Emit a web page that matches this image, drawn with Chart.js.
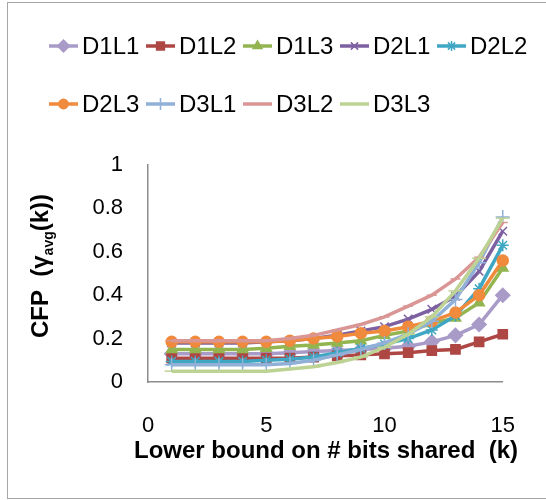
<!DOCTYPE html>
<html>
<head>
<meta charset="utf-8">
<script src="https://cdn.jsdelivr.net/npm/chart.js@4"></script>
<style>
  html, body { margin: 0; padding: 0; background: #fff; overflow: hidden; }
</style>
</head>
<body>
<canvas id="myChart" width="546" height="500"></canvas>
<script>
const ks = [1, 2, 3, 4, 5, 6, 7, 8, 9, 10, 11, 12, 13, 14, 15];
const xTicks = [0, 5, 10, 15];
const yTicks = [0, 0.2, 0.4, 0.6, 0.8, 1];

const d1l1 = [0.13, 0.13, 0.13, 0.13, 0.13, 0.135, 0.14, 0.145, 0.15, 0.155, 0.165, 0.185, 0.215, 0.265, 0.40];
const d1l2 = [0.11, 0.11, 0.11, 0.11, 0.11, 0.11, 0.115, 0.12, 0.125, 0.13, 0.135, 0.145, 0.15, 0.185, 0.22];
const d1l3 = [0.15, 0.15, 0.15, 0.15, 0.155, 0.165, 0.17, 0.18, 0.19, 0.215, 0.235, 0.27, 0.295, 0.365, 0.525];
const d2l1 = [0.18, 0.18, 0.18, 0.18, 0.185, 0.19, 0.2, 0.215, 0.235, 0.255, 0.29, 0.335, 0.395, 0.51, 0.695];
const d2l2 = [0.095, 0.095, 0.095, 0.095, 0.1, 0.105, 0.115, 0.135, 0.155, 0.175, 0.2, 0.24, 0.305, 0.43, 0.63];
const d2l3 = [0.185, 0.185, 0.185, 0.185, 0.185, 0.19, 0.2, 0.21, 0.225, 0.235, 0.255, 0.28, 0.32, 0.4, 0.56];
const d3l1 = [0.08, 0.08, 0.08, 0.08, 0.08, 0.085, 0.1, 0.125, 0.15, 0.18, 0.22, 0.28, 0.38, 0.55, 0.76];
const d3l2 = [0.19, 0.19, 0.19, 0.19, 0.19, 0.2, 0.215, 0.24, 0.265, 0.3, 0.35, 0.4, 0.475, 0.575, 0.735];
const d3l3 = [0.05, 0.05, 0.05, 0.05, 0.05, 0.06, 0.07, 0.09, 0.115, 0.16, 0.22, 0.30, 0.42, 0.57, 0.755];

const seriesNames = ['D1L1', 'D1L2', 'D1L3', 'D2L1', 'D2L2', 'D2L3', 'D3L1', 'D3L2', 'D3L3'];
const seriesValues = [d1l1, d1l2, d1l3, d2l1, d2l2, d2l3, d3l1, d3l2, d3l3];

const colors = ['#A99BC8', '#AE4744', '#93B550', '#7D60A1', '#3FA7C3', '#F08A3C', '#90B0D8', '#D99694', '#BDD394'];
const styles = ['rectRot', 'rect', 'triangle', 'crossRot', 'star', 'circle', 'cross', 'line', 'line'];
const radii = [7, 6.5, 6, 6, 6, 5.5, 7, 5, 7];

const FONT = '"Liberation Sans", Arial, sans-serif';

const ctx = document.getElementById('myChart');

const datasets = seriesNames.map((name, i) => ({
  label: name,
  data: ks.map((k, j) => ({ x: k, y: seriesValues[i][j] })),
  borderColor: colors[i],
  backgroundColor: colors[i],
  borderWidth: 3.5,
  pointStyle: styles[i],
  pointRadius: radii[i],
  pointBorderWidth: 1.5,
  pointBorderColor: colors[i],
  pointBackgroundColor: colors[i],
  tension: 0,
  showLine: true,
  clip: false,
  order: seriesNames.length - i
}));

// legend + axis titles drawn like the Excel original
const excelDecor = {
  id: 'excelDecor',
  afterDraw(chart) {
    const c = chart.ctx;
    c.save();
    // outer border
    c.strokeStyle = '#a6a6a6';
    c.lineWidth = 1;
    c.strokeRect(7.5, 2.5, 600, 496);

    // legend
    c.font = '24px ' + FONT;
    c.textBaseline = 'middle';
    c.textAlign = 'left';
    chart.data.datasets.forEach((ds, i) => {
      const col = i < 5 ? i : i - 5;
      const row = i < 5 ? 0 : 1;
      const x = 49 + col * 97;
      const y = 46 + row * 58;
      c.strokeStyle = ds.borderColor;
      c.lineWidth = 3.5;
      c.beginPath();
      c.moveTo(x, y);
      c.lineTo(x + 29, y);
      c.stroke();
      if (i < 7) {
        c.fillStyle = ds.pointBackgroundColor;
        c.strokeStyle = ds.pointBorderColor;
        c.lineWidth = 1.5;
        Chart.helpers.drawPoint(c, { pointStyle: ds.pointStyle, radius: ds.pointRadius * 0.85, rotation: 0, borderWidth: 1.5 }, x + 14.5, y);
      }
      c.fillStyle = '#000';
      c.fillText(ds.label, x + 33, y + 1);
    });

    // x title
    c.fillStyle = '#000';
    c.font = 'bold 24px ' + FONT;
    c.textAlign = 'center';
    c.textBaseline = 'middle';
    c.fillText('Lower bound on # bits shared  (k)', 326, 451);

    // y title with subscript
    c.translate(40, 266);
    c.rotate(-Math.PI / 2);
    const main1 = 'CFP  (\u03B3';
    const sub = 'avg';
    const main2 = '(k))';
    c.font = 'bold 24px ' + FONT;
    const w1 = c.measureText(main1).width;
    const w3 = c.measureText(main2).width;
    c.font = 'bold 14px ' + FONT;
    const w2 = c.measureText(sub).width;
    let sx = -(w1 + w2 + w3) / 2;
    c.textAlign = 'left';
    c.textBaseline = 'alphabetic';
    c.font = 'bold 24px ' + FONT;
    c.fillText(main1, sx, 8);
    sx += w1;
    c.font = 'bold 14px ' + FONT;
    c.fillText(sub, sx, 13);
    sx += w2;
    c.font = 'bold 24px ' + FONT;
    c.fillText(main2, sx, 8);
    c.restore();
  }
};

new Chart(ctx, {
  type: 'scatter',
  data: { datasets: datasets },
  plugins: [excelDecor],
  options: {
    responsive: false,
    animation: false,
    devicePixelRatio: 1,
    layout: { padding: { top: 165, right: 30, left: 0, bottom: 0 } },
    plugins: {
      legend: { display: false },
      tooltip: { enabled: false }
    },
    scales: {
      x: {
        type: 'linear',
        min: 0,
        max: 15,
        afterBuildTicks: (scale) => { scale.ticks = xTicks.map(v => ({ value: v })); },
        afterFit: (scale) => { scale.height = 118; },
        grid: { display: false, drawTicks: false },
        border: { display: true, color: '#8c8c8c', width: 1.5 },
        ticks: { color: '#000', font: { family: FONT, size: 22 }, padding: 31, maxRotation: 0 }
      },
      y: {
        min: 0,
        max: 1,
        afterBuildTicks: (scale) => { scale.ticks = yTicks.map(v => ({ value: v })); },
        afterFit: (scale) => { scale.width = 148; },
        grid: { display: false, drawTicks: false },
        border: { display: true, color: '#8c8c8c', width: 1.5 },
        ticks: {
          color: '#000',
          font: { family: FONT, size: 22 },
          padding: 25,
          callback: (v) => String(Math.round(v * 10) / 10)
        }
      }
    }
  }
});
</script>
</body>
</html>
